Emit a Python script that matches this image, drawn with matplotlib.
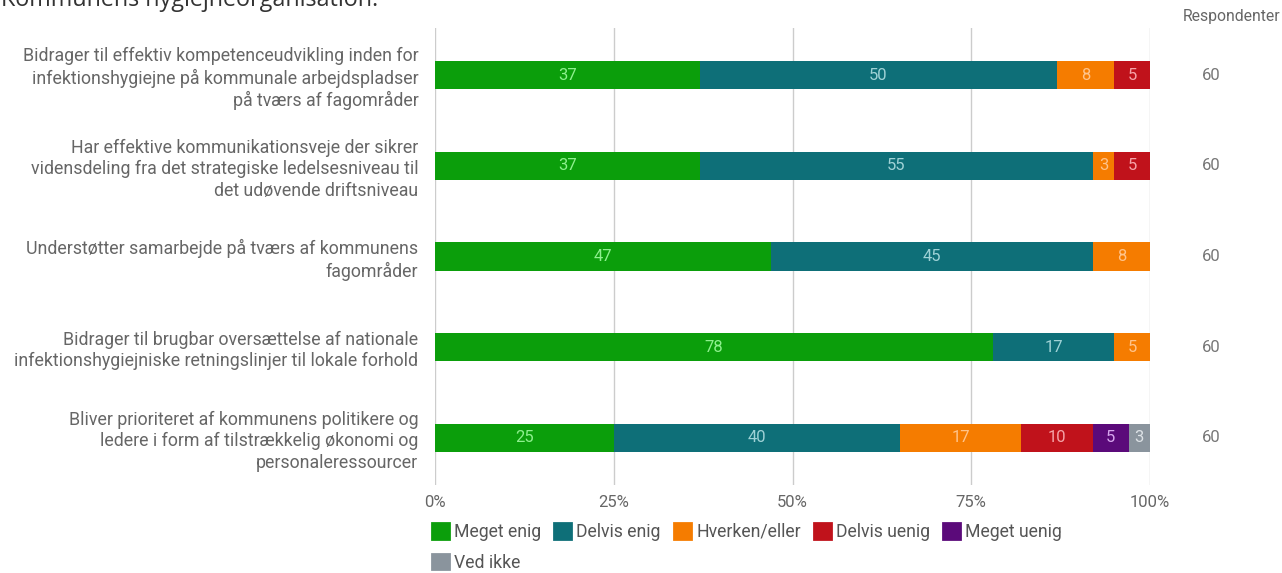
import matplotlib
matplotlib.use("Agg")
import matplotlib.pyplot as plt
from matplotlib.patches import Patch
import numpy as np

plt.rcParams['font.family'] = ['Roboto', 'DejaVu Sans']

title = "Kommunens hygiejneorganisation."
categories = [
    "Bidrager til effektiv kompetenceudvikling inden for\ninfektionshygiejne på kommunale arbejdspladser\npå tværs af fagområder",
    "Har effektive kommunikationsveje der sikrer\nvidensdeling fra det strategiske ledelsesniveau til\ndet udøvende driftsniveau",
    "Understøtter samarbejde på tværs af kommunens\nfagområder",
    "Bidrager til brugbar oversættelse af nationale\ninfektionshygiejniske retningslinjer til lokale forhold",
    "Bliver prioriteret af kommunens politikere og\nledere i form af tilstrækkelig økonomi og\npersonaleressourcer",
]
series_names = ["Meget enig", "Delvis enig", "Hverken/eller", "Delvis uenig", "Meget uenig", "Ved ikke"]
meget_enig   = [37, 37, 47, 78, 25]
delvis_enig  = [50, 55, 45, 17, 40]
hverken      = [8, 3, 8, 5, 17]
delvis_uenig = [5, 5, 0, 0, 10]
meget_uenig  = [0, 0, 0, 0, 5]
ved_ikke     = [0, 0, 0, 0, 3]
respondenter = [60, 60, 60, 60, 60]
tick_labels = ["0%", "25%", "50%", "75%", "100%"]

colors = ["#0b9e0b", "#0e6f78", "#f57c00", "#c0121b", "#5b0a7a", "#8a949d"]
label_colors = ["#8ef08e", "#9fd2d6", "#ffc38a", "#f5a3a8", "#d7a6ee", "#dde2e6"]

series = [meget_enig, delvis_enig, hverken, delvis_uenig, meget_uenig, ved_ikke]

W, H = 1282, 573
fig = plt.figure(figsize=(W / 100, H / 100), dpi=100)
ax = fig.add_axes([435 / W, 1 - 485 / H, (1150 - 435) / W, (485 - 28) / H])

y = np.arange(len(categories))
left = np.zeros(len(categories))
for vals, name, c, lc in zip(series, series_names, colors, label_colors):
    vals = np.array(vals, dtype=float)
    bars = ax.barh(y, vals, left=left, height=0.31, color=c, label=name, zorder=2)
    for b, v in zip(bars, vals):
        if v > 0:
            ax.text(b.get_x() + b.get_width() / 2, b.get_y() + b.get_height() / 2,
                    f"{int(v)}", ha="center", va="center", color=lc, fontsize=12, zorder=3)
    left += vals

ax.set_xlim(0, 100)
ax.set_ylim(len(categories) - 0.48, -0.52)
ax.set_xticks([0, 25, 50, 75, 100])
ax.set_xticklabels(tick_labels)
ax.set_yticks(y)
ax.set_yticklabels(categories, linespacing=1.22)
ax.tick_params(axis="both", length=0, labelsize=12, labelcolor="#666666")
ax.tick_params(axis="y", labelsize=12.8, pad=12)
ax.tick_params(axis="x", pad=7)
for s in ax.spines.values():
    s.set_visible(False)
ax.grid(axis="x", color="#cccccc", linewidth=1, zorder=0)
ax.axvline(0, color="#999999", linewidth=1.2, zorder=1)

# Respondenter column
fig.text(1183 / W, 1 - 17 / H, "Respondenter", ha="left", va="center", fontsize=11.3, color="#666666")
for yi, r in zip(y, respondenter):
    ax.text(1.085, yi, str(r), transform=ax.get_yaxis_transform(), ha="center", va="center",
            fontsize=12, color="#777777")

# Title (clipped at the top, as in the source)
fig.text(1 / W, 1 - 6 / H, title, ha="left", va="baseline", fontsize=16.8, color="#333333",
         family=["Open Sans", "DejaVu Sans"])

# Legend
handles = [Patch(facecolor=c, edgecolor=c, linewidth=2, joinstyle="round", label=n)
           for c, n in zip(colors, series_names)]
order = [0, 5, 1, 2, 3, 4]
leg = fig.legend([handles[i] for i in order], [series_names[i] for i in order],
                 loc="upper left", bbox_to_anchor=(432 / W, 1 - 523 / H), ncol=5,
                 frameon=False, fontsize=12.7, handlelength=0.95, handleheight=0.95,
                 handletextpad=0.3, columnspacing=0.75, labelspacing=0.72,
                 borderaxespad=0, borderpad=0)
for t in leg.get_texts():
    t.set_color("#555555")

fig.savefig("out.png", dpi=100)
